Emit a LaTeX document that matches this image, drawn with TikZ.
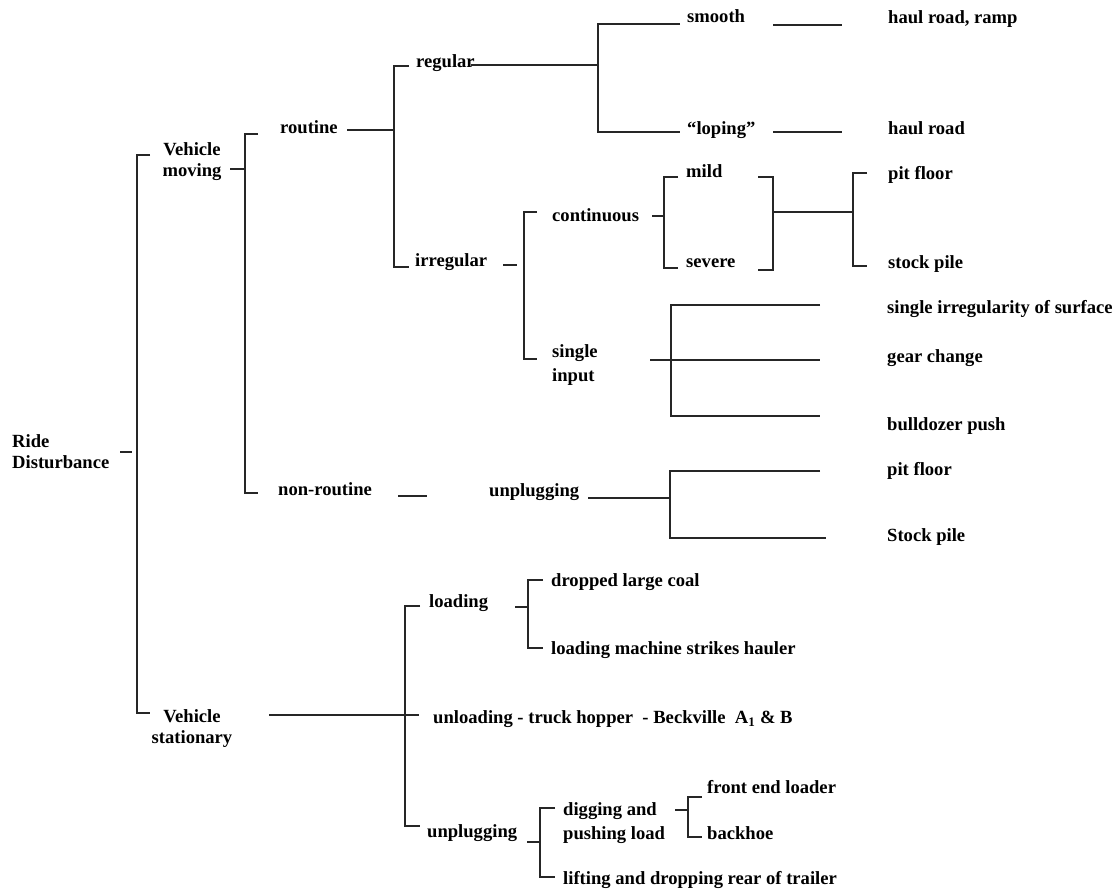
\documentclass[tikz,border=0pt]{standalone}
\usepackage{fontspec}
\setmainfont{Liberation Serif}
\newcommand\mybrk[5]{%
  \coordinate (#1t) at (#5,#3);
  \coordinate (#1tc) at (#2,#3);
  \coordinate (#1bc) at (#2,#4);
  \coordinate (#1b) at (#5,#4);
  \draw[ln] (#1t) -- (#1tc) -- (#1bc) -- (#1b);}
\begin{document}
\begin{tikzpicture}[x=1pt,y=-1pt,
  ln/.style={line width=1.3pt,black!85},
  lab/.style={anchor=west,inner sep=0pt,text height=12.5pt,text depth=3.5pt,
    font=\fontsize{18.6}{21}\selectfont\bfseries},
  labc/.style={inner sep=0pt,align=center,
    font=\fontsize{18.6}{21}\selectfont\bfseries}]
\useasboundingbox (0,0) rectangle (1119,890);

% ---- labels ----
\node[lab,align=left,text height=,text depth=] (rd) at (12,452) {Ride\\Disturbance};
\node[labc] (vm) at (192,162) {Vehicle\\moving};
\node[labc] (vs) at (192,729) {Vehicle\\stationary};
\node[lab] (rt) at (280,129) {routine};
\node[lab] (nr) at (278,491) {non-routine};
\node[lab] (rg) at (416,63) {regular};
\node[lab] (ir) at (415,262) {irregular};
\node[lab] (sm) at (687,18) {smooth};
\node[lab] (lp) at (687,130) {“loping”};
\node[lab] (hr1) at (888,19) {haul road, ramp};
\node[lab] (hr2) at (888,130) {haul road};
\node[lab] (ct) at (552,217) {continuous};
\node[lab] (md) at (686,173) {mild};
\node[lab] (sv) at (686,263) {severe};
\node[lab] (pf1) at (888,175) {pit floor};
\node[lab] (sp1) at (888,264) {stock pile};
\node[lab,align=left,text height=,text depth=,font=\fontsize{18.6}{24}\selectfont\bfseries] (si) at (552,365) {single\\input};
\node[lab] (sis) at (887,309) {single irregularity of surface};
\node[lab] (gc) at (887,358) {gear change};
\node[lab] (bp) at (887,426) {bulldozer push};
\node[lab] (up1) at (489,492) {unplugging};
\node[lab] (pf2) at (887,471) {pit floor};
\node[lab] (sp2) at (887,537) {Stock pile};
\node[lab] (ld) at (429,603) {loading};
\node[lab] (dlc) at (551,582) {dropped large coal};
\node[lab] (lms) at (551,650) {loading machine strikes hauler};
\node[lab] (ul) at (433,719) {unloading - truck hopper\ \ - Beckville\ \ A\textsubscript{1} \& B};
\node[lab] (up2) at (427,833) {unplugging};
\node[lab,align=left,text height=,text depth=,font=\fontsize{18.6}{24}\selectfont\bfseries] (dp) at (563,823) {digging and\\pushing load};
\node[lab] (fel) at (707,789) {front end loader};
\node[lab] (bh) at (707,835) {backhoe};
\node[lab] (lf) at (563,880) {lifting and dropping rear of trailer};

% ---- connectors ----
% Ride Disturbance
\draw[ln] (120,452) coordinate (rdA) -- (132,452) coordinate (rdB);
\mybrk{mainb}{137}{155}{713}{150}
% Vehicle moving
\draw[ln] (230,169) coordinate (vmA) -- (245,169) coordinate (vmB);
\mybrk{vmb}{245}{134}{493}{258}
% routine
\draw[ln] (347,130) coordinate (rtA) -- (394,130) coordinate (rtB);
\mybrk{rtb}{394}{66}{267}{409}
% regular
\draw[ln] (rg.east) ++(-4,2) coordinate (rgA) -- (598,65) coordinate (rgB);
\mybrk{rgb}{598}{24}{132}{680}
\draw[ln] (773,25) coordinate (smA) -- (842,25) coordinate (smB);
\draw[ln] (773,132) coordinate (lpA) -- (842,132) coordinate (lpB);
% irregular
\draw[ln] (503,265) coordinate (irA) -- (517,265) coordinate (irB);
\mybrk{irb}{524}{212}{359}{537}
% continuous
\draw[ln] (652,216) coordinate (ctA) -- (664,216) coordinate (ctB);
\mybrk{ctb}{664}{177}{268}{678}
\mybrk{msb}{773}{177}{270}{758}
\draw[ln] (773,212) coordinate (msA) -- (853,212) coordinate (msB);
\mybrk{psb}{853}{173}{266}{867}
% single input
\mybrk{sib}{671}{305}{416}{820}
\draw[ln] (650,360) coordinate (siA) -- (820,360) coordinate (siB);
% non-routine
\draw[ln] (398,496) coordinate (nrA) -- (427,496) coordinate (nrB);
\draw[ln] (588,498) coordinate (upA) -- (670,498) coordinate (upB);
\draw[ln] (820,471) coordinate (upT) -- (670,471) -- (670,538) -- (826,538) coordinate (upBt);
% Vehicle stationary
\draw[ln] (269,715) coordinate (vsA) -- (419,715) coordinate (vsB);
\mybrk{vsb}{405}{606}{826}{420}
% loading
\draw[ln] (515,607) coordinate (ldA) -- (528,607) coordinate (ldB);
\mybrk{ldb}{528}{580}{648}{543}
% unplugging (stationary)
\draw[ln] (527,842) coordinate (u2A) -- (540,842) coordinate (u2B);
\mybrk{u2b}{540}{808}{877}{555}
% digging
\draw[ln] (675,810) coordinate (dgA) -- (688,810) coordinate (dgB);
\mybrk{dgb}{688}{797}{837}{702}
\end{tikzpicture}
\end{document}
